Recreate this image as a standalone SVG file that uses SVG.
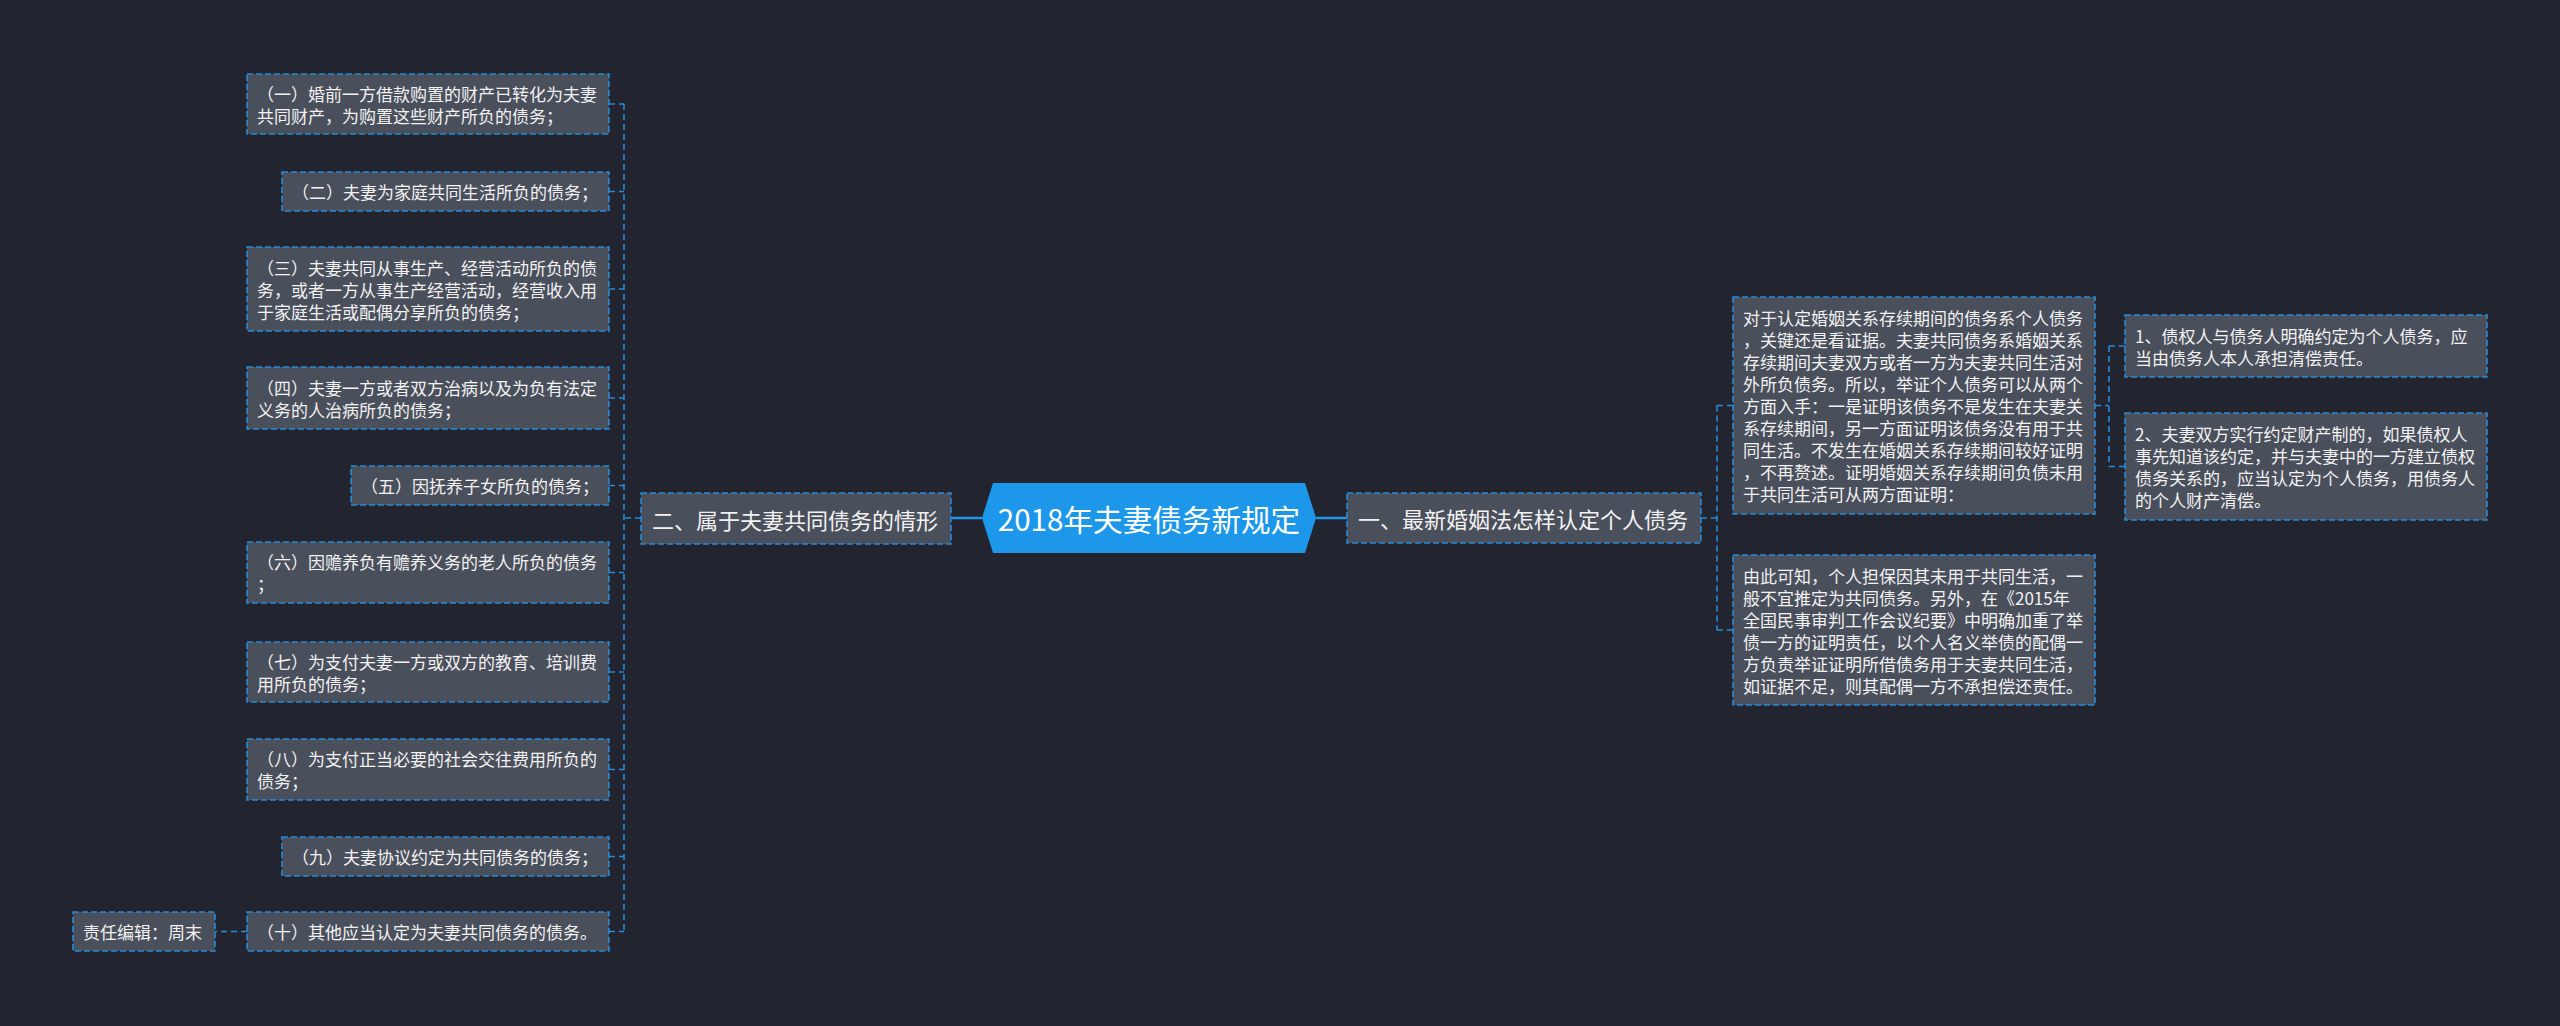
<svg xmlns="http://www.w3.org/2000/svg" width="2560" height="1026" viewBox="0 0 2560 1026">
<style>
.bg{fill:#22252f}
.box{fill:#4a4f5c;stroke:#268ad8;stroke-width:1.6;stroke-dasharray:6 3}
.t{font-family:"Noto Sans CJK SC","Noto Sans",sans-serif;font-size:17px;fill:#f2f2f2;dominant-baseline:central}
.tm{font-family:"Noto Sans CJK SC","Noto Sans",sans-serif;font-size:22px;fill:#f2f2f2;dominant-baseline:central}
.tc{font-family:"Noto Sans CJK SC","Noto Sans",sans-serif;font-size:29.6px;fill:#ffffff;dominant-baseline:central;text-anchor:middle}
.dc{fill:none;stroke:#268ad8;stroke-width:1.6;stroke-dasharray:6 4}
.sc{fill:none;stroke:#1d97ea;stroke-width:2.5}
</style>
<rect class="bg" x="0" y="0" width="2560" height="1026"/>

<g id="connectors">
  <path class="sc" d="M951 518 H982"/>
  <path class="sc" d="M1316 518 H1347"/>
  <path class="dc" d="M641 518 H624"/>
  <path class="dc" d="M624 104 V931.5"/>
  <path class="dc" d="M609 104 H624"/>
  <path class="dc" d="M609 191.5 H624"/>
  <path class="dc" d="M609 289 H624"/>
  <path class="dc" d="M609 398 H624"/>
  <path class="dc" d="M609 485.5 H624"/>
  <path class="dc" d="M609 572.5 H624"/>
  <path class="dc" d="M609 672 H624"/>
  <path class="dc" d="M609 769.5 H624"/>
  <path class="dc" d="M609 856.5 H624"/>
  <path class="dc" d="M609 931.5 H624"/>
  <path class="dc" d="M247 931.5 H215"/>
  <path class="dc" d="M1701 518 H1717"/>
  <path class="dc" d="M1717 405.5 V630"/>
  <path class="dc" d="M1717 405.5 H1733"/>
  <path class="dc" d="M1717 630 H1733"/>
  <path class="dc" d="M2095 405.5 H2109"/>
  <path class="dc" d="M2109 346 V466.5"/>
  <path class="dc" d="M2109 346 H2125"/>
  <path class="dc" d="M2109 466.5 H2125"/>
</g>

<g id="center">
  <path d="M982 518 L993 483 H1305 L1316 518 L1305 553 H993 Z" fill="#1d97ea"/>
  <text class="tc" x="1149" y="518">2018年夫妻债务新规定</text>
</g>

<g id="n2">
  <rect class="box" x="641" y="493" width="310" height="51"/>
  <text class="tm" x="652" y="518.5">二、属于夫妻共同债务的情形</text>
</g>

<g id="n1">
  <rect class="box" x="1347" y="493" width="354" height="50"/>
  <text class="tm" x="1358" y="518">一、最新婚姻法怎样认定个人债务</text>
</g>

<g id="l1">
  <rect class="box" x="247" y="74" width="362" height="60"/>
  <text class="t" x="257" y="93">（一）婚前一方借款购置的财产已转化为夫妻</text>
  <text class="t" x="257" y="115">共同财产，为购置这些财产所负的债务；</text>
</g>
<g id="l2">
  <rect class="box" x="282" y="172" width="327" height="39"/>
  <text class="t" x="292" y="191.5">（二）夫妻为家庭共同生活所负的债务；</text>
</g>
<g id="l3">
  <rect class="box" x="247" y="247" width="362" height="84"/>
  <text class="t" x="257" y="267">（三）夫妻共同从事生产、经营活动所负的债</text>
  <text class="t" x="257" y="289">务，或者一方从事生产经营活动，经营收入用</text>
  <text class="t" x="257" y="311">于家庭生活或配偶分享所负的债务；</text>
</g>
<g id="l4">
  <rect class="box" x="247" y="367" width="362" height="62"/>
  <text class="t" x="257" y="387">（四）夫妻一方或者双方治病以及为负有法定</text>
  <text class="t" x="257" y="409">义务的人治病所负的债务；</text>
</g>
<g id="l5">
  <rect class="box" x="351" y="466" width="258" height="39"/>
  <text class="t" x="361" y="485.5">（五）因抚养子女所负的债务；</text>
</g>
<g id="l6">
  <rect class="box" x="247" y="542" width="362" height="61"/>
  <text class="t" x="257" y="561.5">（六）因赡养负有赡养义务的老人所负的债务</text>
  <text class="t" x="257" y="583.5">；</text>
</g>
<g id="l7">
  <rect class="box" x="247" y="642" width="362" height="60"/>
  <text class="t" x="257" y="661">（七）为支付夫妻一方或双方的教育、培训费</text>
  <text class="t" x="257" y="683">用所负的债务；</text>
</g>
<g id="l8">
  <rect class="box" x="247" y="739" width="362" height="61"/>
  <text class="t" x="257" y="758.5">（八）为支付正当必要的社会交往费用所负的</text>
  <text class="t" x="257" y="780.5">债务；</text>
</g>
<g id="l9">
  <rect class="box" x="282" y="837" width="327" height="39"/>
  <text class="t" x="292" y="856.5">（九）夫妻协议约定为共同债务的债务；</text>
</g>
<g id="l10">
  <rect class="box" x="247" y="912" width="362" height="39"/>
  <text class="t" x="257" y="931.5">（十）其他应当认定为夫妻共同债务的债务。</text>
</g>
<g id="editor">
  <rect class="box" x="73" y="912" width="142" height="39"/>
  <text class="t" x="83" y="931.5">责任编辑：周末</text>
</g>

<g id="rA">
  <rect class="box" x="1733" y="297" width="362" height="217"/>
  <text class="t" x="1743" y="317.5">对于认定婚姻关系存续期间的债务系个人债务</text>
  <text class="t" x="1743" y="339.5">，关键还是看证据。夫妻共同债务系婚姻关系</text>
  <text class="t" x="1743" y="361.5">存续期间夫妻双方或者一方为夫妻共同生活对</text>
  <text class="t" x="1743" y="383.5">外所负债务。所以，举证个人债务可以从两个</text>
  <text class="t" x="1743" y="405.5">方面入手：一是证明该债务不是发生在夫妻关</text>
  <text class="t" x="1743" y="427.5">系存续期间，另一方面证明该债务没有用于共</text>
  <text class="t" x="1743" y="449.5">同生活。不发生在婚姻关系存续期间较好证明</text>
  <text class="t" x="1743" y="471.5">，不再赘述。证明婚姻关系存续期间负债未用</text>
  <text class="t" x="1743" y="493.5">于共同生活可从两方面证明：</text>
</g>
<g id="rB">
  <rect class="box" x="1733" y="555" width="362" height="150"/>
  <text class="t" x="1743" y="575">由此可知，个人担保因其未用于共同生活，一</text>
  <text class="t" x="1743" y="597">般不宜推定为共同债务。另外，在《2015年</text>
  <text class="t" x="1743" y="619">全国民事审判工作会议纪要》中明确加重了举</text>
  <text class="t" x="1743" y="641">债一方的证明责任，以个人名义举债的配偶一</text>
  <text class="t" x="1743" y="663">方负责举证证明所借债务用于夫妻共同生活，</text>
  <text class="t" x="1743" y="685">如证据不足，则其配偶一方不承担偿还责任。</text>
</g>
<g id="rC1">
  <rect class="box" x="2125" y="315" width="362" height="62"/>
  <text class="t" x="2135" y="335">1、债权人与债务人明确约定为个人债务，应</text>
  <text class="t" x="2135" y="357">当由债务人本人承担清偿责任。</text>
</g>
<g id="rC2">
  <rect class="box" x="2125" y="413" width="362" height="107"/>
  <text class="t" x="2135" y="433.5">2、夫妻双方实行约定财产制的，如果债权人</text>
  <text class="t" x="2135" y="455.5">事先知道该约定，并与夫妻中的一方建立债权</text>
  <text class="t" x="2135" y="477.5">债务关系的，应当认定为个人债务，用债务人</text>
  <text class="t" x="2135" y="499.5">的个人财产清偿。</text>
</g>
</svg>
